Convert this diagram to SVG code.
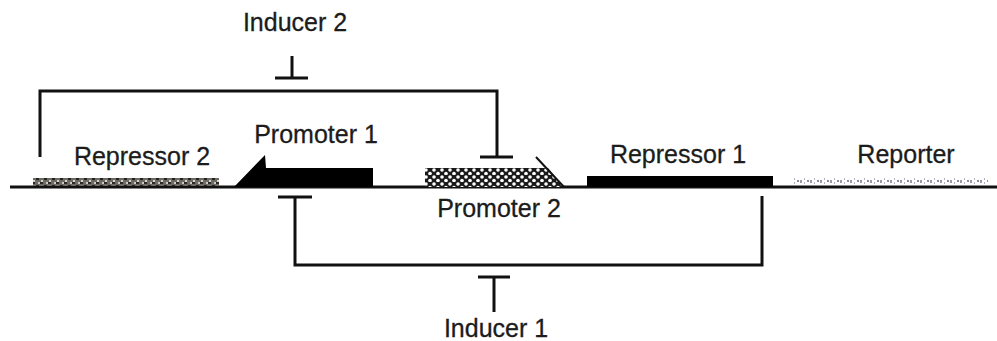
<svg xmlns="http://www.w3.org/2000/svg" width="997" height="341" viewBox="0 0 997 341">
<style>
.lbl{font-family:"Liberation Sans",Arial,sans-serif;font-size:25px;fill:#1c1c1c;stroke:#1c1c1c;stroke-width:0.3;text-anchor:middle}
.ln{stroke:#111;stroke-width:3;fill:none}
</style>
<defs>
<pattern id="pR2" width="8" height="7" patternUnits="userSpaceOnUse">
<rect width="8" height="7" fill="#6e6a64"/>
<rect x="0" y="0" width="3" height="2" fill="#2a2a2a"/>
<rect x="4" y="3" width="3" height="2" fill="#222"/>
<rect x="1" y="5" width="2" height="2" fill="#d8d4cc"/>
<rect x="6" y="0" width="2" height="2" fill="#cfcac2"/>
</pattern>
<pattern id="pP2" width="8" height="7" patternUnits="userSpaceOnUse">
<rect width="8" height="7" fill="#1a1a1a"/>
<circle cx="2" cy="2" r="1.8" fill="#fff"/>
<circle cx="6" cy="5.5" r="1.8" fill="#fff"/>
</pattern>
<pattern id="pRep" width="10" height="6" patternUnits="userSpaceOnUse">
<rect width="10" height="6" fill="#fff"/>
<rect x="0" y="0" width="2" height="3" fill="#9a9aa8"/>
<rect x="4" y="2" width="1" height="4" fill="#b0b0bc"/>
<rect x="7" y="0" width="2" height="2" fill="#8c8c9a"/>
</pattern>
</defs>
<g id="dna"><line x1="10" y1="187" x2="997" y2="187" class="ln"/></g>
<g id="repressor2">
<rect x="33" y="178" width="186" height="8" fill="url(#pR2)"/>
<text class="lbl" x="142" y="165">Repressor 2</text>
</g>
<g id="promoter1">
<polygon points="234,187 265,155 266,168 373,168 373,187" fill="#000"/>
<text class="lbl" x="316" y="143">Promoter 1</text>
</g>
<g id="promoter2">
<polygon points="425,168 548,168 563,187 425,187" fill="url(#pP2)"/>
<line x1="536" y1="157" x2="564" y2="187" stroke="#111" stroke-width="2"/>
<text class="lbl" x="499" y="217">Promoter 2</text>
</g>
<g id="repressor1">
<rect x="587" y="176" width="186" height="11" fill="#000"/>
<text class="lbl" x="678" y="163">Repressor 1</text>
</g>
<g id="reporter">
<rect x="793" y="178" width="195" height="6" fill="url(#pRep)"/>
<text class="lbl" x="906" y="163">Reporter</text>
</g>
<g id="inducer2">
<text class="lbl" x="295" y="31">Inducer 2</text>
</g>
<g id="inducer1">
<text class="lbl" x="496" y="337">Inducer 1</text>
</g>
<g id="connectors">
<path class="ln" d="M40,157 V91 H497 V157"/>
<line class="ln" x1="480" y1="157" x2="513" y2="157"/>
<line class="ln" x1="292" y1="56" x2="292" y2="78"/>
<line class="ln" x1="275" y1="78" x2="308" y2="78"/>
<path class="ln" d="M295,197 V265 H762 V196"/>
<line class="ln" x1="278" y1="197" x2="312" y2="197"/>
<line class="ln" x1="494" y1="277" x2="494" y2="312"/>
<line class="ln" x1="478" y1="277" x2="510" y2="277"/>
</g>
</svg>
